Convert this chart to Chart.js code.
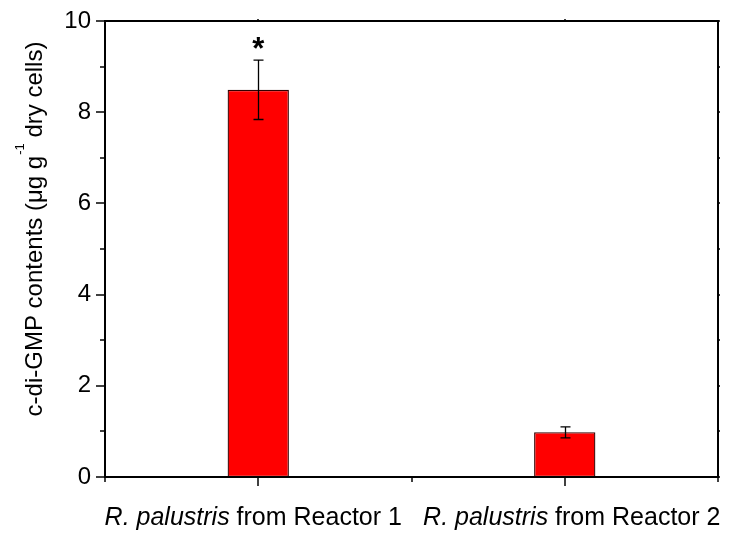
<!DOCTYPE html>
<html>
<head>
<meta charset="utf-8">
<script src="https://cdn.jsdelivr.net/npm/chart.js@4/dist/chart.umd.min.js"></script>
<style>
  html, body { margin: 0; padding: 0; background: #fff; }
  #wrap { width: 732px; height: 540px; }
</style>
</head>
<body>
<div id="wrap"><canvas id="c" width="732" height="540"></canvas></div>
<script>
// ---- data ----
const categories = ['Reactor 1', 'Reactor 2'];
const speciesName = ['R. palustris', 'R. palustris'];
const labelSuffix = [' from Reactor 1', ' from Reactor 2'];
const contents = [8.49, 0.98];
const errors = [0.65, 0.12];
const significance = ['*', ''];
const yMin = 0, yMax = 10, yMajorStep = 2, yMinorStep = 1;
const yTitleMain = 'c-di-GMP contents (\u03BCg g';
const yTitleSup = '-1';
const yTitleEnd = ' dry cells)';

const FONT = '"Liberation Sans", Arial, sans-serif';

const decorPlugin = {
  id: 'decor',
  afterDatasetsDraw(chart) {
    const ctx = chart.ctx;
    const { left, right, top, bottom } = chart.chartArea;
    const xs = chart.scales.x, ys = chart.scales.y;
    ctx.save();
    ctx.strokeStyle = '#000';
    ctx.fillStyle = '#000';

    // frame (all four sides)
    ctx.lineWidth = 2;
    ctx.beginPath();
    ctx.moveTo(left, top); ctx.lineTo(right, top); ctx.lineTo(right, bottom);
    ctx.lineTo(left, bottom); ctx.closePath();
    ctx.stroke();

    // y ticks
    ctx.lineWidth = 1.5;
    for (let v = yMin; v <= yMax + 1e-9; v += yMinorStep) {
      const py = Math.round(ys.getPixelForValue(v));
      const major = Math.abs(v / yMajorStep - Math.round(v / yMajorStep)) < 1e-9;
      const len = major ? 9 : 5;
      ctx.beginPath(); ctx.moveTo(left - len, py); ctx.lineTo(left, py); ctx.stroke();
      ctx.beginPath(); ctx.moveTo(right, py); ctx.lineTo(right + 2, py); ctx.stroke();
    }

    // x ticks: category centres (major) and boundaries (minor)
    for (let i = 0; i < categories.length; i++) {
      const px = Math.round(xs.getPixelForValue(i));
      ctx.beginPath(); ctx.moveTo(px, bottom); ctx.lineTo(px, bottom + 9); ctx.stroke();
      ctx.beginPath(); ctx.moveTo(px, top); ctx.lineTo(px, top - 2); ctx.stroke();
    }
    for (let i = 0; i <= categories.length; i++) {
      const px = Math.round(xs.getPixelForValue(i - 0.5));
      ctx.beginPath(); ctx.moveTo(px, bottom); ctx.lineTo(px, bottom + 5); ctx.stroke();
    }

    // error bars + significance marks
    const meta = chart.getDatasetMeta(0);
    ctx.lineWidth = 1.3;
    meta.data.forEach((bar, i) => {
      const px = Math.round(bar.x) + 0.5;
      const yHi = ys.getPixelForValue(contents[i] + errors[i]);
      const yLo = ys.getPixelForValue(contents[i] - errors[i]);
      ctx.beginPath();
      ctx.moveTo(px, yHi); ctx.lineTo(px, yLo);
      ctx.moveTo(px - 5, yHi); ctx.lineTo(px + 5, yHi);
      ctx.moveTo(px - 5, yLo); ctx.lineTo(px + 5, yLo);
      ctx.stroke();
      if (significance[i]) {
        ctx.font = 'bold 31px ' + FONT;
        ctx.textAlign = 'center';
        ctx.textBaseline = 'alphabetic';
        ctx.fillText(significance[i], bar.x, yHi - 1);
      }
    });

    // x category labels (italic species + regular suffix)
    ctx.textBaseline = 'alphabetic';
    ctx.textAlign = 'left';
    const italicFont = 'italic 25px ' + FONT;
    const normalFont = '25px ' + FONT;
    const labelShift = [-5, 7];
    for (let i = 0; i < categories.length; i++) {
      const cx = xs.getPixelForValue(i);
      ctx.font = italicFont;
      const w1 = ctx.measureText(speciesName[i]).width;
      ctx.font = normalFont;
      const w2 = ctx.measureText(labelSuffix[i]).width;
      let sx = cx - (w1 + w2) / 2 + labelShift[i];
      ctx.font = italicFont;
      ctx.fillText(speciesName[i], sx, 525);
      ctx.font = normalFont;
      ctx.fillText(labelSuffix[i], sx + w1, 525);
    }

    // y title with superscript
    const titleFont = '24px ' + FONT;
    ctx.save();
    ctx.translate(42, 229);
    ctx.rotate(-Math.PI / 2);
    ctx.font = titleFont;
    const m1 = ctx.measureText(yTitleMain).width;
    const m3 = ctx.measureText(yTitleEnd).width;
    ctx.font = '13px ' + FONT;
    const m2 = ctx.measureText(yTitleSup).width;
    const total = m1 + m2 + m3;
    let tx = -total / 2;
    ctx.textAlign = 'left';
    ctx.font = titleFont;
    ctx.fillText(yTitleMain, tx, 0);
    ctx.font = '13px ' + FONT;
    ctx.fillText(yTitleSup, tx + m1 + 1, -18);
    ctx.font = titleFont;
    ctx.fillText(yTitleEnd, tx + m1 + m2, 0);
    ctx.restore();

    ctx.restore();
  }
};

new Chart(document.getElementById('c'), {
  type: 'bar',
  data: {
    labels: categories,
    datasets: [{
      data: contents,
      backgroundColor: '#FF0000',
      borderColor: '#300000',
      borderWidth: 1.3,
      borderSkipped: false,
      barPercentage: 0.2,
      categoryPercentage: 1.0
    }]
  },
  options: {
    responsive: false,
    animation: false,
    devicePixelRatio: 1,
    layout: { padding: { top: 21, right: 14, left: 0, bottom: 0 } },
    plugins: { legend: { display: false }, tooltip: { enabled: false } },
    scales: {
      x: {
        type: 'category',
        offset: true,
        grid: { display: false },
        border: { display: false },
        ticks: { display: false },
        afterFit(scale) { scale.height = 63; scale.paddingLeft = 0; scale.paddingRight = 0; }
      },
      y: {
        min: yMin, max: yMax,
        grid: { display: false, drawTicks: false },
        border: { display: false },
        ticks: {
          stepSize: yMajorStep,
          color: '#000',
          padding: 14,
          font: { family: FONT, size: 24 }
        },
        afterFit(scale) { scale.width = 105; scale.paddingTop = 0; scale.paddingBottom = 0; }
      }
    }
  },
  plugins: [decorPlugin]
});
</script>
</body>
</html>
